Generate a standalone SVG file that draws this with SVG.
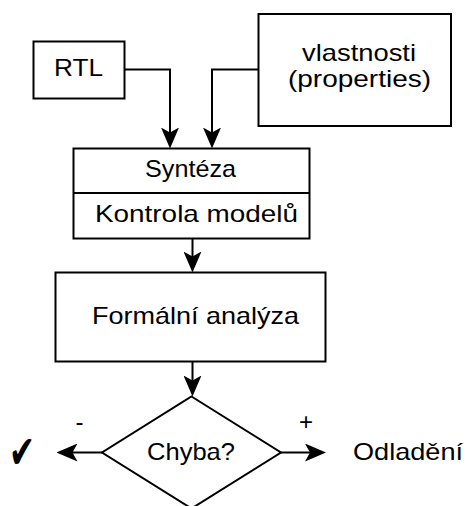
<svg xmlns="http://www.w3.org/2000/svg" width="468" height="506" viewBox="0 0 468 506">
  <style>
    .box { fill: #ffffff; stroke: #000000; stroke-width: 2; }
    .lbl { font-family: "Liberation Sans", Arial, sans-serif; font-size: 24px; fill: #000000; }
    .mid { text-anchor: middle; }
    .wire { fill: none; stroke: #000000; stroke-width: 2; }
  </style>
  <defs>
    <marker id="arrow" viewBox="0 0 21 18" refX="13" refY="9" markerWidth="21" markerHeight="18" markerUnits="userSpaceOnUse" orient="auto">
      <path d="M0,0 L21,9 L0,18 L5,9 Z" fill="#000000"/>
    </marker>
  </defs>
  <rect width="468" height="506" fill="#ffffff"/>

  <g id="connectors">
    <path class="wire" d="M124.5,69.5 H170 V140.5" marker-end="url(#arrow)"/>
    <path class="wire" d="M258.5,69.5 H212 V140.5" marker-end="url(#arrow)"/>
    <path class="wire" d="M192.5,238.5 V264.5" marker-end="url(#arrow)"/>
    <path class="wire" d="M192.5,361.5 V388.5" marker-end="url(#arrow)"/>
    <path class="wire" d="M102,452.5 H64.5" marker-end="url(#arrow)"/>
    <path class="wire" d="M281,452.5 H318" marker-end="url(#arrow)"/>
  </g>

  <g id="rtl">
    <rect class="box" x="33.5" y="41.5" width="91" height="57"/>
    <text class="lbl" x="54" y="76" textLength="49" lengthAdjust="spacingAndGlyphs">RTL</text>
  </g>

  <g id="properties">
    <rect class="box" x="258.5" y="14" width="192.5" height="112"/>
    <text class="lbl" x="302" y="61" textLength="114" lengthAdjust="spacingAndGlyphs">vlastnosti</text>
    <text class="lbl" x="288" y="87" textLength="143" lengthAdjust="spacingAndGlyphs">(properties)</text>
  </g>

  <g id="synthesis">
    <rect class="box" x="73.5" y="148.5" width="236" height="90"/>
    <line class="wire" x1="73.5" y1="193" x2="309.5" y2="193"/>
    <text class="lbl" x="145" y="177" textLength="91" lengthAdjust="spacingAndGlyphs">Syntéza</text>
    <text class="lbl" x="95" y="222" textLength="203" lengthAdjust="spacingAndGlyphs">Kontrola modelů</text>
  </g>

  <g id="formal-analysis">
    <rect class="box" x="55.5" y="272.5" width="270" height="89"/>
    <text class="lbl" x="92" y="324" textLength="207" lengthAdjust="spacingAndGlyphs">Formální analýza</text>
  </g>

  <g id="decision">
    <path class="box" d="M191.5,396.5 L281,452.5 L191.5,508.5 L102,452.5 Z"/>
    <text class="lbl" x="147" y="459.5" textLength="88" lengthAdjust="spacingAndGlyphs">Chyba?</text>
  </g>

  <g id="branch-labels">
    <text class="lbl mid" x="79.5" y="430" font-size="18">-</text>
    <text class="lbl mid" x="306" y="430" font-size="21">+</text>
  </g>

  <g id="ok">
    <text x="9" y="468" font-family="DejaVu Sans, sans-serif" font-size="46" fill="#000000" textLength="26" lengthAdjust="spacingAndGlyphs">✔</text>
  </g>

  <g id="debug">
    <text class="lbl" x="353" y="459.5" textLength="110" lengthAdjust="spacingAndGlyphs">Odladění</text>
  </g>
</svg>
